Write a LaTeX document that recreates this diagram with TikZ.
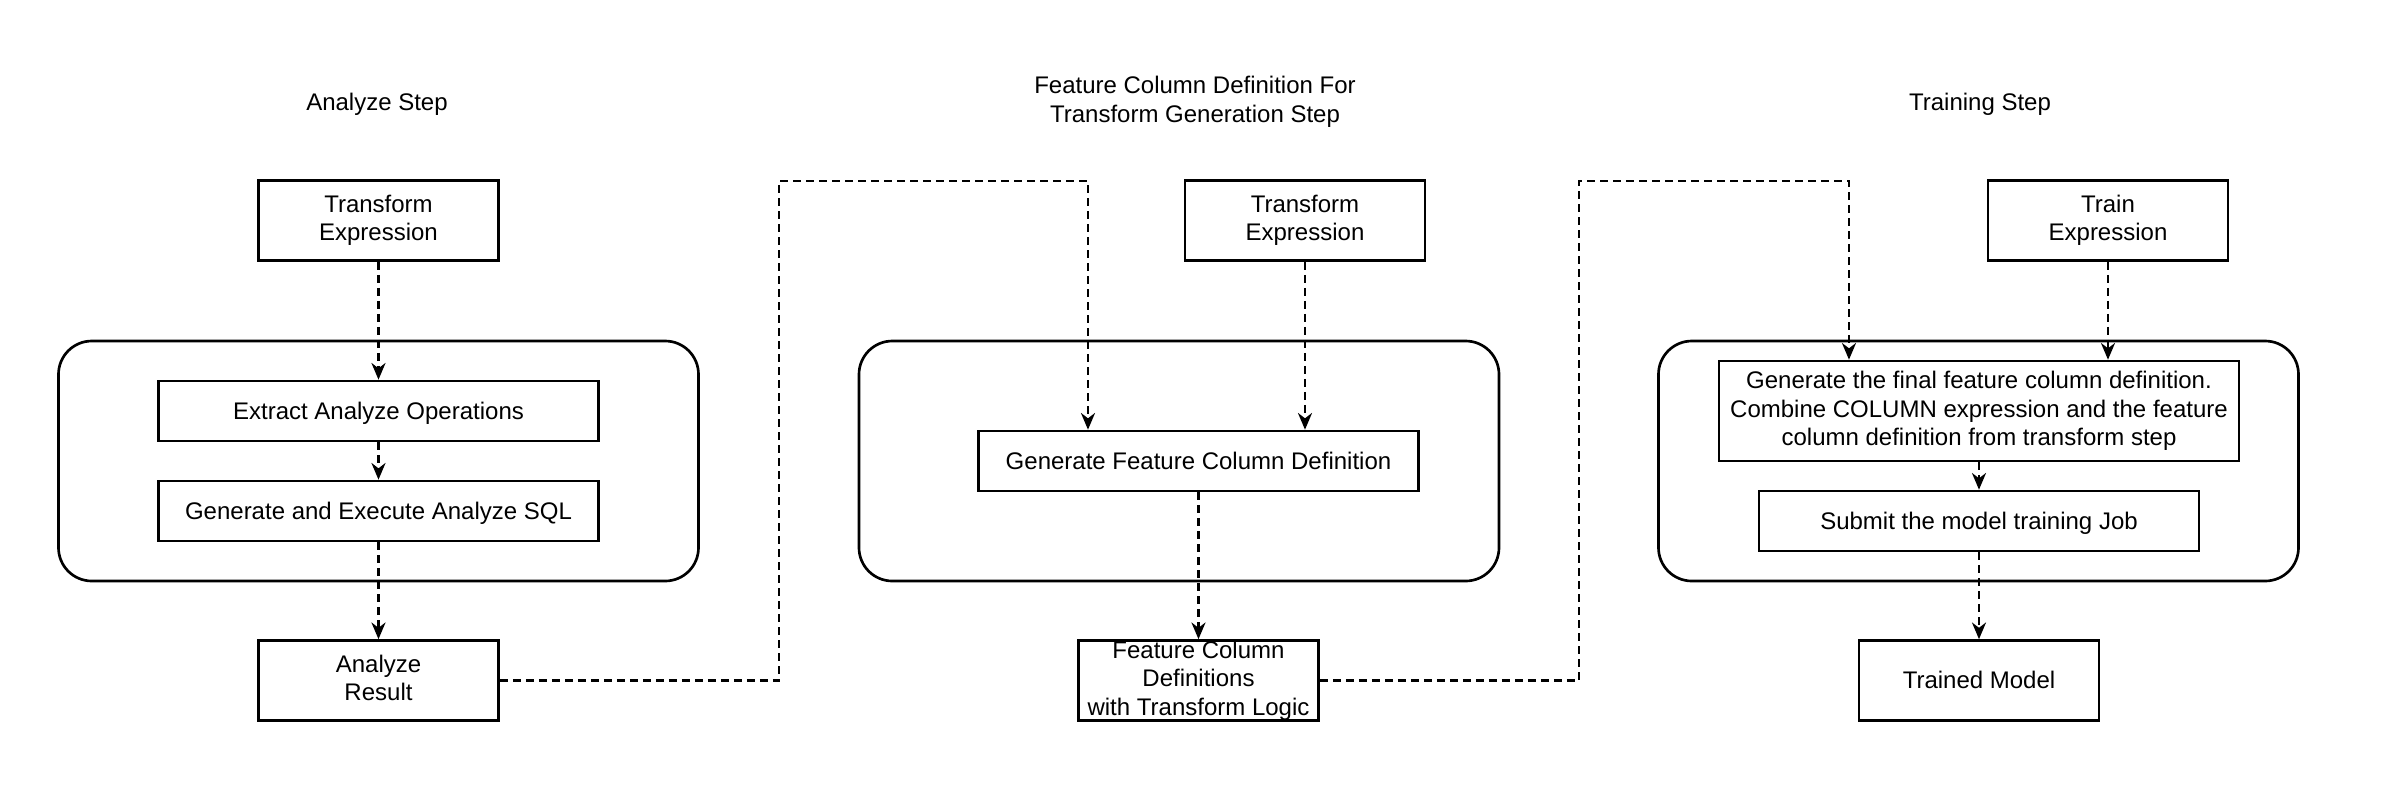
\documentclass[tikz,border=0pt]{standalone}
\usepackage{fontspec}
\setmainfont{Liberation Sans}
\usetikzlibrary{arrows.meta}
\begin{document}
\begin{tikzpicture}[x=0.3pt,y=-0.3pt,
  sz/.style 2 args={minimum width={#1*0.3pt}, minimum height={#2*0.3pt}},
  txt/.style={align=center, inner sep=0pt, font=\fontsize{7.2}{8.5}\selectfont,
    execute at begin node={\rule{0pt}{0.905em}},
    execute at end node={\rule[-0.212em]{0pt}{0pt}}},
  box/.style={txt, draw, line width=0.8pt},
  group/.style={draw, line width=0.8pt, rounded corners=10pt, inner sep=0pt},
  ttl/.style={txt},
  conn/.style={line width=0.8pt, dash pattern=on 2.4pt off 1.5pt, -{Stealth[length=5pt,width=4.2pt,inset=1.6pt]}}]
\useasboundingbox (0,0) rectangle (2384,800);
% titles
\node[ttl] (t1) at (377,102) {Analyze Step};
\node[ttl] (t2) at (1195,102) {Feature Column Definition For\\Transform Generation Step};
\node[ttl] (t3) at (1980,102) {Training Step};
% column 1
\node[group, sz={640}{240}] (g1) at (378.5,461) {};
\node[box, sz={240}{80}] (te1) at (378.5,220.5) {Transform\\Expression};
\node[box, sz={440}{60}] (ex) at (378.5,411) {Extract Analyze Operations};
\node[box, sz={440}{60}] (sql) at (378.5,511) {Generate and Execute Analyze SQL};
\node[box, sz={240}{80}] (ar) at (378.5,680.5) {Analyze\\Result};
% column 2
\node[group, sz={640}{240}] (g2) at (1179,461) {};
\node[box, sz={240}{80}] (te2) at (1305,220.5) {Transform\\Expression};
\node[box, sz={440}{60}] (gfc) at (1198.5,461) {Generate Feature Column Definition};
\node[box, sz={240}{80}] (fcd) at (1198.5,680.5) {Feature Column\\Definitions\\with Transform Logic};
% column 3
\node[group, sz={640}{240}] (g3) at (1978.5,461) {};
\node[box, sz={240}{80}] (tr) at (2108,220.5) {Train\\Expression};
\node[box, sz={520}{100}] (fin) at (1979,411) {Generate the final feature column definition.\\Combine COLUMN expression and the feature\\column definition from transform step};
\node[box, sz={440}{60}] (sub) at (1979,521) {Submit the model training Job};
\node[box, sz={240}{80}] (tm) at (1979,680.5) {Trained Model};
% waypoints
\coordinate (a2) at (779,181);
\coordinate (a3) at (1088,181);
\coordinate (b2) at (1579,181);
\coordinate (b3) at (1849,181);
% connectors
\draw[conn] (te1) -- (ex);
\draw[conn] (ex) -- (sql);
\draw[conn] (sql) -- (ar);
\draw[conn] (ar.east) -| (a2) -- (a3) -- (a3 |- gfc.north);
\draw[conn] (te2) -- (te2 |- gfc.north);
\draw[conn] (gfc) -- (fcd);
\draw[conn] (fcd.east) -| (b2) -- (b3) -- (b3 |- fin.north);
\draw[conn] (tr) -- (tr |- fin.north);
\draw[conn] (fin) -- (sub);
\draw[conn] (sub) -- (tm);
\end{tikzpicture}
\end{document}
